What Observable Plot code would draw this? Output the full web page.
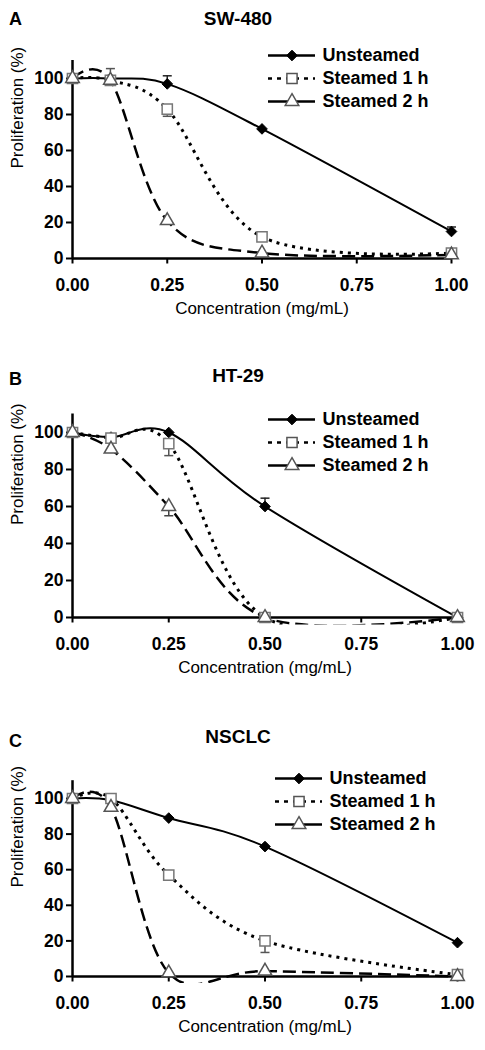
<!DOCTYPE html>
<html><head><meta charset="utf-8">
<script src="https://cdn.jsdelivr.net/npm/d3@7"></script>
<script src="https://cdn.jsdelivr.net/npm/@observablehq/plot@0.6"></script>
<style>
body{margin:0;background:#fff;font-family:"Liberation Sans",Arial,sans-serif;}
#root{position:relative;width:485px;height:1050px;overflow:hidden;background:#fff;}
.abs{position:absolute;}
.title{font-weight:bold;font-size:19px;line-height:19px;width:476px;text-align:center;left:0;}
.letter{font-weight:bold;font-size:18px;line-height:18px;left:9px;}
svg{overflow:visible;}
</style></head><body><div id="root"></div>
<script>
// ---------- data ----------
const concentrations = [0, 0.1, 0.25, 0.5, 1.0];
const xTicks = [0, 0.25, 0.5, 0.75, 1];
const yTicks = [0, 20, 40, 60, 80, 100];
const seriesNames = ["Unsteamed", "Steamed 1 h", "Steamed 2 h"];
const panelLetters = ["A", "B", "C"];
const panelTitles = ["SW-480", "HT-29", "NSCLC"];
const xLabel = "Concentration (mg/mL)";
const yLabel = "Proliferation (%)";

const sw480Unsteamed = [100, 100, 97, 72, 15];
const sw480Steamed1h = [100, 99, 83, 12, 3];
const sw480Steamed2h = [100, 99, 21, 3, 2];
const sw480ErrUnsteamed = [0, 0, 4.5, 0, 2.5];
const sw480ErrSteamed1h = [0, 6.5, -4, 0, 0];
const sw480ErrSteamed2h = [0, 0, 0, 0, 0];

const ht29Unsteamed = [100, 97.5, 100, 60, 0];
const ht29Steamed1h = [100, 97, 94, 0, 0];
const ht29Steamed2h = [100, 91, 60, 0, 0];
const ht29ErrUnsteamed = [0, 0, 0, 4.5, 0];
const ht29ErrSteamed1h = [0, 0, -6.5, 0, 0];
const ht29ErrSteamed2h = [0, 0, -5, 0, 0];

const nsclcUnsteamed = [100, 99, 89, 73, 19];
const nsclcSteamed1h = [100, 100, 57, 20, 1];
const nsclcSteamed2h = [100, 95, 2, 3, 0];
const nsclcErrUnsteamed = [0, 0, 0, 0, 0];
const nsclcErrSteamed1h = [0, 0, 0, -6.5, 0];
const nsclcErrSteamed2h = [0, 0, 0, 0, 0];

const panelValues = [
  [sw480Unsteamed, sw480Steamed1h, sw480Steamed2h],
  [ht29Unsteamed, ht29Steamed1h, ht29Steamed2h],
  [nsclcUnsteamed, nsclcSteamed1h, nsclcSteamed2h]
];
const panelErrors = [
  [sw480ErrUnsteamed, sw480ErrSteamed1h, sw480ErrSteamed2h],
  [ht29ErrUnsteamed, ht29ErrSteamed1h, ht29ErrSteamed2h],
  [nsclcErrUnsteamed, nsclcErrSteamed1h, nsclcErrSteamed2h]
];

// ---------- layout / style ----------
const yAxisTop = 110, yMin = -4;
const layout = [
  {top: 0,   y100: 78,  y0: 258, xLeft: 72, xRight: 451, legendLeft: 268, legendTop: 47,  titleTop: 9,   letterTop: 10},
  {top: 350, y100: 432, y0: 617, xLeft: 72, xRight: 457, legendLeft: 268, legendTop: 411, titleTop: 366, letterTop: 370},
  {top: 712, y100: 798, y0: 976, xLeft: 72, xRight: 457, legendLeft: 275, legendTop: 770, titleTop: 727, letterTop: 732}
];
const seriesStyle = [
  {dash: null,   legendDash: null,  width: 2,   symbol: "diamond2",  r: 4.8, fill: "black", stroke: "black", sw: 1,   err: "#222"},
  {dash: "3,5",  legendDash: "4,5", width: 3,   symbol: "square2",   r: 6.5, fill: "white", stroke: "#777",  sw: 1.5, err: "#555"},
  {dash: "13,6", legendDash: null,  width: 2.5, symbol: "triangle2", r: 6.5, fill: "white", stroke: "#555",  sw: 1.5, err: "#444"}
];
const FONT = '"Liberation Sans", Arial, sans-serif';
const TICK_FS = 17.5;
const tickDown = {draw(ctx) { ctx.moveTo(0, 0); ctx.lineTo(0, 5); }};
const capSymbol = {draw(ctx) { ctx.moveTo(-4.5, 0); ctx.lineTo(4.5, 0); }};

const root = document.getElementById("root");

function addDiv(cls, text, top) {
  const d = document.createElement("div");
  d.className = "abs " + cls;
  d.textContent = text;
  d.style.top = top + "px";
  root.appendChild(d);
}

layout.forEach((L, p) => {
  const rows = [];
  seriesNames.forEach((s, si) => {
    concentrations.forEach((c, i) => {
      rows.push({series: s, si, x: c, y: panelValues[p][si][i], err: panelErrors[p][si][i]});
    });
  });
  const errRows = rows.filter(d => d.err !== 0);

  const ppu = (L.y0 - L.y100) / 100;
  const marginTop = L.y100 - (yAxisTop - 100) * ppu - L.top;
  const frameBottom = L.y0 - yMin * ppu;
  const marginBottom = 60;
  const height = frameBottom - L.top + marginBottom;

  const marks = [];
  seriesNames.forEach((s, si) => {
    const st = seriesStyle[si];
    marks.push(Plot.line(rows.filter(d => d.si === si), {
      x: "x", y: "y", curve: "cardinal", tension: 0, clip: true,
      stroke: "black", strokeWidth: st.width,
      strokeDasharray: st.dash || undefined, strokeLinecap: "butt"
    }));
  });
  marks.push(
    Plot.ruleY([0], {stroke: "black", strokeWidth: 2.5}),
    Plot.ruleX([0], {y1: 0, y2: yAxisTop, stroke: "black", strokeWidth: 2.5}),
    Plot.axisY(yTicks, {tickSize: 6, tickPadding: 3, strokeWidth: 2, label: null, fontSize: TICK_FS}),
    Plot.dot(xTicks, {x: d => d, y: 0, symbol: tickDown, fill: "none", stroke: "black", strokeWidth: 2}),
    Plot.text(xTicks, {x: d => d, y: 0, dy: 32.6 - 0.32 * TICK_FS, text: d => d.toFixed(2), fontSize: TICK_FS, fontWeight: "bold", fill: "black"}),
    Plot.text([xLabel], {frameAnchor: "bottom", dy: 55.6 - (-yMin) * ppu, text: d => d, fontSize: 17, fontWeight: "normal", fill: "black"}),
    Plot.text([yLabel], {frameAnchor: "left", rotate: -90, dx: -55.4, dy: ((yAxisTop + yMin) / 2 - 50) * ppu, text: d => d, fontSize: 17, fontWeight: "normal", fill: "black"}),
    Plot.ruleX(errRows, {x: "x", y1: "y", y2: d => d.y + d.err, stroke: d => seriesStyle[d.si].err, strokeWidth: 1.5}),
    Plot.dot(errRows, {x: "x", y: d => d.y + d.err, symbol: capSymbol, fill: "none", stroke: d => seriesStyle[d.si].err, strokeWidth: 1.5})
  );
  seriesNames.forEach((s, si) => {
    const st = seriesStyle[si];
    marks.push(Plot.dot(rows.filter(d => d.si === si), {
      x: "x", y: "y", symbol: st.symbol, r: st.r, fill: st.fill, stroke: st.stroke, strokeWidth: st.sw
    }));
  });

  const chart = Plot.plot({
    width: 485, height,
    marginLeft: L.xLeft, marginRight: 485 - L.xRight, marginTop, marginBottom,
    x: {domain: [0, 1], axis: null},
    y: {domain: [yMin, yAxisTop]},
    color: {type: "identity"},
    style: {fontFamily: FONT, fontSize: TICK_FS + "px", fontWeight: "bold", color: "black", background: "transparent", overflow: "visible"},
    marks
  });
  chart.style.position = "absolute";
  chart.style.left = "0px";
  chart.style.top = L.top + "px";
  root.appendChild(chart);

  // legend (its own small Plot)
  const legMarks = [];
  seriesNames.forEach((s, si) => {
    const st = seriesStyle[si];
    legMarks.push(Plot.ruleY([s], {y: d => d, x1: 0, x2: 1, stroke: "black", strokeWidth: 2.5, strokeDasharray: st.legendDash || undefined}));
    legMarks.push(Plot.dot([s], {y: d => d, x: 0.5, symbol: st.symbol, r: st.r, fill: st.fill, stroke: st.stroke === "#777" ? "#555" : st.stroke, strokeWidth: st.sw}));
  });
  legMarks.push(Plot.text(seriesNames, {y: d => d, x: 1, dx: 7, text: d => d, textAnchor: "start", fontSize: 18, fontWeight: "bold", fill: "black"}));
  const legend = Plot.plot({
    width: 210, height: 64, margin: 0,
    x: {domain: [0, 1], range: [0, 47], axis: null},
    y: {type: "point", domain: seriesNames, range: [8, 54], padding: 0, axis: null},
    style: {fontFamily: FONT, background: "transparent", overflow: "visible"},
    marks: legMarks
  });
  legend.style.position = "absolute";
  legend.style.left = L.legendLeft + "px";
  legend.style.top = L.legendTop + "px";
  root.appendChild(legend);

  addDiv("title", panelTitles[p], L.titleTop);
  addDiv("letter", panelLetters[p], L.letterTop);
});
</script>
</body></html>
